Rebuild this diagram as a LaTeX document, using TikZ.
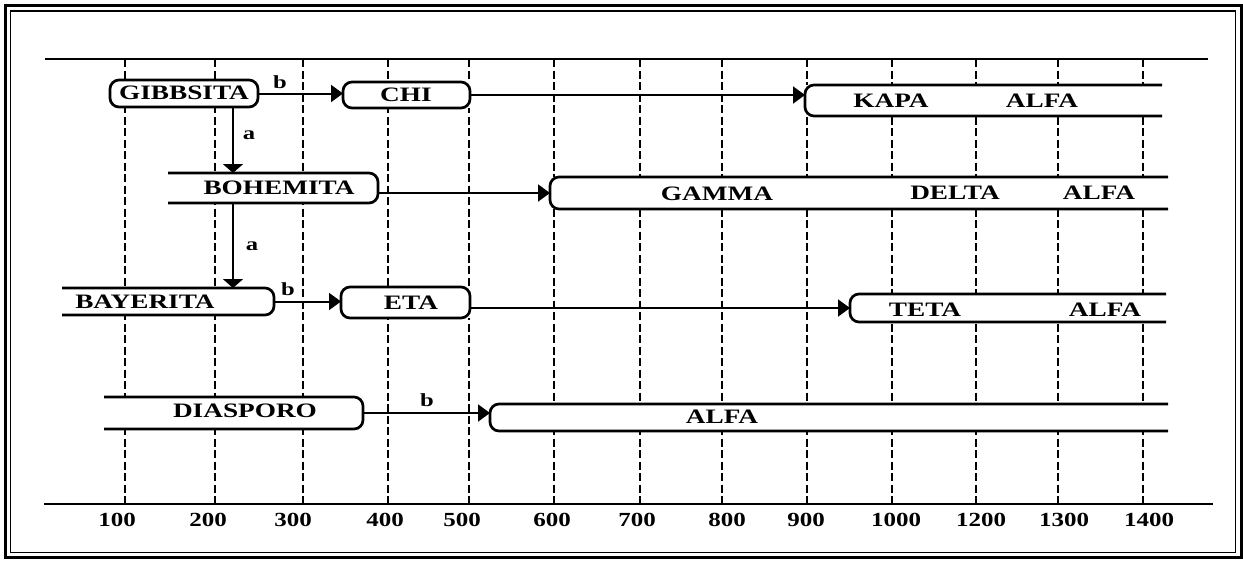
\documentclass[tikz,border=0pt]{standalone}
\usepackage{fontspec}
\usepackage{graphicx}
\setmainfont{Liberation Serif}
\usetikzlibrary{arrows.meta,calc}
\newcommand{\stx}[1]{\scalebox{1.33}[1]{#1}}
\newcommand{\snum}[1]{\scalebox{1.25}[1]{#1}}
\tikzset{
  gridline/.style={line width=2.6pt, dash pattern=on 8pt off 3.5pt},
  axisline/.style={line width=2.8pt},
  boxline/.style={line width=2.7pt, rounded corners=9pt},
  boxarea/.style={inner sep=0pt, outer sep=0pt, draw=none},
  conn/.style={line width=2pt, -{Triangle[length=12pt,width=17pt]}},
  vconn/.style={line width=2pt, -{Triangle[length=9pt,width=20pt]}},
  txt/.style={font=\fontsize{20.5}{22}\selectfont\bfseries, inner sep=0pt},
  numtxt/.style={font=\fontsize{20}{22}\selectfont\bfseries, inner sep=0pt},
  lbltxt/.style={font=\fontsize{18.5}{20}\selectfont\bfseries, inner sep=0pt}
}
\begin{document}
\begin{tikzpicture}[x=1pt,y=-1pt]
\useasboundingbox (0,0) rectangle (1243,560);
% frame
\draw[line width=3pt] (5,5.5) rectangle (1241.5,557.5);
\draw[line width=1.8pt] (10.5,11) rectangle (1235.5,552.5);
% grid
\foreach \gx in {125,215,303,388,469,554,640,722,807,892,976,1058,1143}
  \draw[gridline] (\gx,59) -- (\gx,504);
\draw[axisline] (45,59) -- (1208,59);
\draw[axisline] (44,504) -- (1213,504);
% axis labels
\foreach \lx/\lt [count=\i] in {117/100,208/200,293/300,385/400,462/500,552/600,637/700,727/800,806/900,896/1000,981/1200,1064/1300,1149/1400}
  \node[numtxt] (n\i) at (\lx,520) {\snum{\lt}};
% box areas
\node[boxarea, minimum width=148pt, minimum height=27pt] (gib) at (184,93.5) {};
\node[boxarea, minimum width=127pt, minimum height=26pt] (chi) at (406.5,95) {};
\node[boxarea, minimum width=357pt, minimum height=31pt] (kapa) at (983.5,100.5) {};
\node[boxarea, minimum width=210pt, minimum height=30pt] (boh) at (273,188) {};
\node[boxarea, minimum width=618pt, minimum height=32pt] (gam) at (859,193) {};
\node[boxarea, minimum width=212pt, minimum height=27pt] (bay) at (168,301.5) {};
\node[boxarea, minimum width=129pt, minimum height=31pt] (eta) at (405.5,302.5) {};
\node[boxarea, minimum width=316pt, minimum height=28pt] (teta) at (1008,308) {};
\node[boxarea, minimum width=259pt, minimum height=32pt] (dia) at (233.5,413) {};
\node[boxarea, minimum width=678pt, minimum height=27pt] (alfa) at (829,417.5) {};
% fills
\foreach \b in {gib,chi,kapa,boh,gam,bay,eta,teta,dia,alfa}
  \fill[white] (\b.north west) rectangle (\b.south east);
% closed boxes
\foreach \b in {gib,chi,eta}
  \draw[boxline] (\b.north west) rectangle (\b.south east);
% left-open boxes
\foreach \b in {boh,bay,dia}
  \draw[boxline] (\b.north west) -- (\b.north east) -- (\b.south east) -- (\b.south west);
% right-open boxes
\foreach \b in {kapa,gam,teta,alfa}
  \draw[boxline] (\b.north east) -- (\b.north west) -- (\b.south west) -- (\b.south east);
% connectors
\coordinate (vx) at (233,0);
\draw[conn] (gib.east) -- (gib.east -| chi.west);
\draw[conn] (chi.east) -- (chi.east -| kapa.west);
\draw[vconn] (vx |- gib.south) -- (vx |- boh.north);
\draw[conn] (boh.east |- gam.west) -- (gam.west);
\draw[vconn] (vx |- boh.south) -- (vx |- bay.north);
\draw[conn] (bay.east) -- (bay.east -| eta.west);
\draw[conn] (eta.east |- teta.west) -- (teta.west);
\draw[conn] (dia.east) -- (dia.east -| alfa.west);
% labels on connectors
\node[lbltxt] (b1) at (280,82) {\stx{b}};
\node[lbltxt] (a1) at (249,135) {\stx{a}};
\node[lbltxt] (a2) at (252,246) {\stx{a}};
\node[lbltxt] (b2) at (288,289) {\stx{b}};
\node[lbltxt] (b3) at (427,400) {\stx{b}};
% box texts
\node[txt] (tgib) at (184,93) {\stx{GIBBSITA}};
\node[txt] (tchi) at (406,95) {\stx{CHI}};
\node[txt] (tkapa) at (891,101) {\stx{KAPA}};
\node[txt] (talfa1) at (1042,101) {\stx{ALFA}};
\node[txt] (tboh) at (279,188) {\stx{BOHEMITA}};
\node[txt] (tgam) at (717,194) {\stx{GAMMA}};
\node[txt] (tdelta) at (955,193) {\stx{DELTA}};
\node[txt] (talfa2) at (1099,193) {\stx{ALFA}};
\node[txt] (tbay) at (145,302) {\stx{BAYERITA}};
\node[txt] (teta2) at (411,303) {\stx{ETA}};
\node[txt] (tteta) at (925,310) {\stx{TETA}};
\node[txt] (talfa3) at (1105,310) {\stx{ALFA}};
\node[txt] (tdia) at (245,411) {\stx{DIASPORO}};
\node[txt] (talfa4) at (722,417) {\stx{ALFA}};
\end{tikzpicture}
\end{document}
